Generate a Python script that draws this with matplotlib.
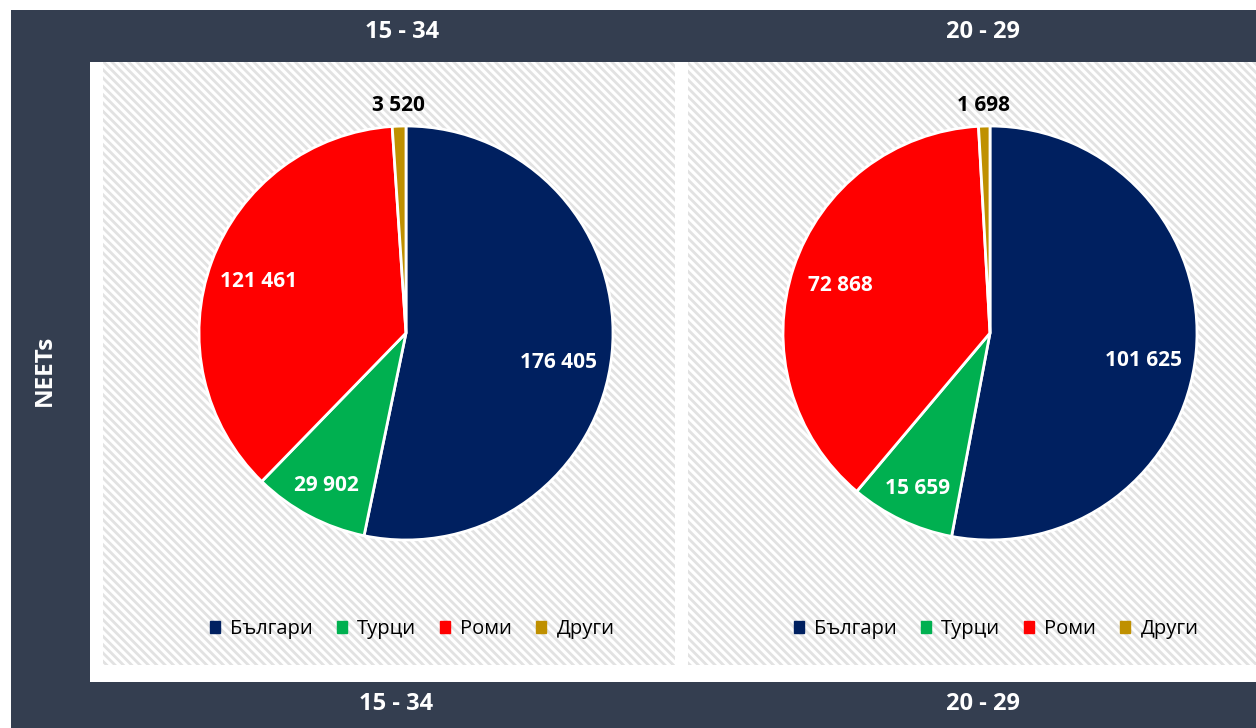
import matplotlib.pyplot as plt
import matplotlib.patches as mpatches
import numpy as np

plt.rcParams['font.family'] = ['Open Sans', 'DejaVu Sans']
plt.rcParams['hatch.linewidth'] = 2.0

categories = ['Българи', 'Турци', 'Роми', 'Други']
values_15_34 = [176405, 29902, 121461, 3520]
values_20_29 = [101625, 15659, 72868, 1698]
panel_titles = ['15 - 34', '20 - 29']
side_title = 'NEETs'

colors = ['#002060', '#00B050', '#FF0000', '#BF9000']
label_colors = ['white', 'white', 'white', 'black']
# label placement: distance from centre (in radii) and angle nudge (deg)
label_dist = [0.75, 0.82, 0.76, 1.11]
label_nudge = [-4.0, 0.0, 0.0, 0.0]

W, H = 1256, 728
DARK = '#343e50'

fig = plt.figure(figsize=(W / 100, H / 100), dpi=100)
fig.patch.set_facecolor('white')


def px_rect(x0, y0, x1, y1, **kw):
    # pixel box (top-left origin) -> figure rectangle
    r = mpatches.Rectangle((x0 / W, 1 - y1 / H), (x1 - x0) / W, (y1 - y0) / H,
                           transform=fig.transFigure, **kw)
    fig.add_artist(r)
    return r


def px_text(x, y, s, **kw):
    fig.text(x / W, 1 - y / H, s, **kw)


# frame
px_rect(11, 10, W, H, facecolor=DARK, edgecolor='none', zorder=0)
px_rect(90, 62, W, 682, facecolor='white', edgecolor='none', zorder=1)
px_rect(103, 62, 675, 665, facecolor='white', edgecolor='#e2e2e2', linewidth=0,
        hatch='\\\\\\\\', zorder=2)
px_rect(688, 62, W, 665, facecolor='white', edgecolor='#e2e2e2', linewidth=0,
        hatch='\\\\\\\\', zorder=2)

# titles
for x_top, x_bot, t in zip([402, 983], [396, 983], panel_titles):
    px_text(x_top, 29, t, color='white', fontsize=17, fontweight='bold',
            ha='center', va='center_baseline')
    px_text(x_bot, 701, t, color='white', fontsize=17, fontweight='bold',
            ha='center', va='center_baseline')
px_text(45, 370, side_title, color='white', fontsize=17.5, fontweight='bold',
        ha='center', va='center', rotation=90)

R = 207
centers = [(406, 333), (990, 333)]
legend_x = [412, 996]

for (cx, cy), vals, lx in zip(centers, [values_15_34, values_20_29], legend_x):
    ax = fig.add_axes([(cx - R) / W, 1 - (cy + R) / H, 2 * R / W, 2 * R / H])
    ax.set_zorder(3)
    ax.patch.set_alpha(0)
    wedges, _ = ax.pie(vals, colors=colors, startangle=90, counterclock=False,
                       radius=1, wedgeprops=dict(edgecolor='white', linewidth=2))
    ax.set_xlim(-1, 1)
    ax.set_ylim(-1, 1)
    ax.set_aspect('equal')
    ax.axis('off')
    for w, v, c, d, n in zip(wedges, vals, label_colors, label_dist, label_nudge):
        ang = np.deg2rad((w.theta1 + w.theta2) / 2 + n)
        ax.text(d * np.cos(ang), d * np.sin(ang), f"{v:,}".replace(',', ' '),
                color=c, fontsize=15, fontweight='bold', ha='center',
                va='center_baseline', clip_on=False)
    handles = [mpatches.Patch(color=c, label=l) for c, l in zip(colors, categories)]
    fig.legend(handles=handles, loc='center', bbox_to_anchor=(lx / W, 1 - 629 / H),
               ncol=4, frameon=False, fontsize=14.5, handlelength=0.5,
               handleheight=0.5, handletextpad=0.5, columnspacing=1.2)

fig.savefig('out.png', dpi=100)
